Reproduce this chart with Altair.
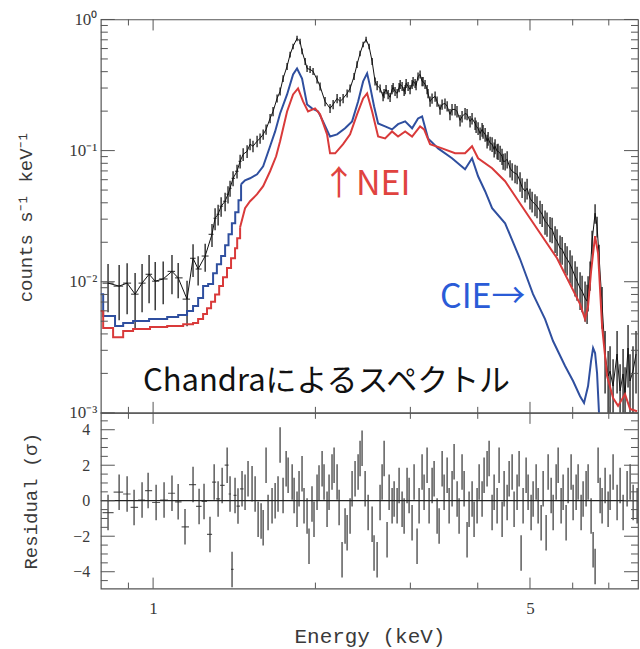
import altair as alt
import numpy as np
import pandas as pd

# ---------------- observed spectrum (keV, counts s^-1 keV^-1, fractional error) ----------------
data_E = [0.825, 0.865, 0.895, 0.926, 0.954, 0.983, 1.009, 1.044, 1.084, 1.113, 1.156, 1.186,
          1.212, 1.249, 1.286, 1.303, 1.320, 1.337, 1.360, 1.377, 1.389, 1.407, 1.431, 1.450,
          1.469, 1.494, 1.513, 1.532, 1.559, 1.579, 1.600, 1.620, 1.648, 1.669, 1.698, 1.720,
          1.742, 1.772, 1.795, 1.818, 1.849, 1.873, 1.889, 1.914, 1.930, 1.955, 1.980, 2.014,
          2.040, 2.084, 2.129, 2.157, 2.194, 2.222, 2.251, 2.290, 2.319, 2.359, 2.389, 2.420,
          2.452, 2.483, 2.515, 2.548, 2.580, 2.636, 2.681, 2.728, 2.774, 2.810, 2.859, 2.896,
          2.934, 2.971, 3.022, 3.061, 3.100, 3.127, 3.167, 3.194, 3.235, 3.291, 3.362, 3.435,
          3.510, 3.584, 3.661, 3.741, 3.822, 3.904, 3.955, 4.006, 4.075, 4.128, 4.181, 4.253,
          4.307, 4.363, 4.437, 4.496, 4.592, 4.691, 4.792, 4.895, 5.000, 5.108, 5.219, 5.332,
          5.447, 5.565, 5.685, 5.808, 5.933, 6.061, 6.192, 6.325, 6.407, 6.462, 6.518, 6.602,
          6.658, 6.715, 6.802, 6.890, 6.980, 7.038, 7.129, 7.252, 7.346, 7.440, 7.503, 7.600,
          7.664, 7.762, 7.863]
data_rate = [0.00976, 0.00926, 0.00976, 0.00804, 0.00976, 0.0114, 0.0101, 0.0105, 0.0120, 0.0107, 0.00737, 0.0151,
             0.0125, 0.0157, 0.0230, 0.0305, 0.0327, 0.0377, 0.0411, 0.0465, 0.0516, 0.0615, 0.0696, 0.0829,
             0.0937, 0.0988, 0.112, 0.108, 0.118, 0.124, 0.133, 0.145, 0.176, 0.199, 0.250, 0.283,
             0.355, 0.439, 0.541, 0.623, 0.717, 0.680, 0.571, 0.479, 0.423, 0.416, 0.402, 0.349,
             0.309, 0.237, 0.210, 0.225, 0.250, 0.237, 0.250, 0.273, 0.298, 0.368, 0.454, 0.551,
             0.645, 0.704, 0.623, 0.479, 0.337, 0.298, 0.273, 0.268, 0.293, 0.283, 0.303, 0.309,
             0.293, 0.309, 0.320, 0.326, 0.368, 0.381, 0.337, 0.320, 0.273, 0.250, 0.237, 0.225,
             0.218, 0.206, 0.199, 0.182, 0.189, 0.176, 0.161, 0.148, 0.145, 0.133, 0.124, 0.112,
             0.108, 0.0988, 0.0905, 0.0829, 0.0733, 0.0672, 0.0584, 0.0490, 0.0433, 0.0390, 0.0345, 0.0289,
             0.0256, 0.0215, 0.0180, 0.0157, 0.0136, 0.0110, 0.00894, 0.00750, 0.00848, 0.0114, 0.0204, 0.0333,
             0.0265, 0.0157, 0.00675, 0.00281, 0.00191, 0.00208, 0.00160, 0.00281, 0.00147, 0.00198, 0.00139, 0.00312,
             0.00175, 0.00208, 0.00281]
data_err = [0.40, 0.45, 0.42, 0.45, 0.40, 0.40, 0.40, 0.36, 0.33, 0.30, 0.38, 0.28,
            0.25, 0.24, 0.20, 0.19, 0.18, 0.17, 0.16, 0.15, 0.14, 0.13, 0.12, 0.12,
            0.11, 0.11, 0.10, 0.10, 0.10, 0.09, 0.09, 0.09, 0.08, 0.08, 0.07, 0.07,
            0.06, 0.06, 0.05, 0.05, 0.05, 0.05, 0.05, 0.06, 0.06, 0.06, 0.06, 0.07,
            0.07, 0.08, 0.08, 0.08, 0.08, 0.08, 0.08, 0.07, 0.07, 0.06, 0.06, 0.05,
            0.05, 0.05, 0.05, 0.06, 0.07, 0.07, 0.08, 0.08, 0.08, 0.08, 0.08, 0.08,
            0.08, 0.08, 0.08, 0.08, 0.07, 0.07, 0.08, 0.08, 0.08, 0.09, 0.09, 0.09,
            0.09, 0.10, 0.10, 0.10, 0.10, 0.10, 0.11, 0.11, 0.12, 0.12, 0.12, 0.13,
            0.13, 0.14, 0.14, 0.15, 0.15, 0.16, 0.17, 0.18, 0.18, 0.19, 0.20, 0.21,
            0.22, 0.23, 0.25, 0.26, 0.28, 0.30, 0.32, 0.34, 0.30, 0.25, 0.20, 0.17,
            0.18, 0.22, 0.35, 0.50, 0.55, 0.55, 0.60, 0.50, 0.60, 0.55, 0.60, 0.50,
            0.60, 0.55, 0.50]

# finer bins read from the dense 2.6-6.4 keV band
fine_E = [2.603, 2.670, 2.704, 2.751, 2.787, 2.835, 2.872, 2.921, 2.946, 2.996,
          3.035, 3.074, 3.154, 3.222, 3.263, 3.334, 3.405, 3.478, 3.553, 3.631,
          3.709, 3.789, 3.871, 3.972, 4.040, 4.092, 4.163, 4.217, 4.290, 4.345,
          4.401, 4.458, 4.535, 4.633, 4.732, 4.834, 4.938, 5.045, 5.152, 5.266,
          5.377, 5.495, 5.612, 5.735, 5.858, 5.984, 6.113, 6.245, 6.380]
fine_rate = [0.314, 0.259, 0.293, 0.255, 0.303, 0.273, 0.320, 0.283, 0.326, 0.293,
             0.337, 0.314, 0.337, 0.293, 0.237, 0.259, 0.206, 0.229, 0.189, 0.206,
             0.170, 0.192, 0.167, 0.153, 0.135, 0.140, 0.118, 0.114, 0.102, 0.0988,
             0.0954, 0.0829, 0.0858, 0.0696, 0.0660, 0.0525, 0.0516, 0.0411, 0.0377, 0.0327,
             0.0279, 0.0252, 0.0204, 0.0177, 0.0149, 0.0125, 0.0101, 0.00848, 0.00712]
fine_err = [0.08, 0.08, 0.08, 0.08, 0.08, 0.08, 0.08, 0.08, 0.08, 0.08,
            0.08, 0.08, 0.08, 0.08, 0.09, 0.09, 0.09, 0.09, 0.10, 0.10,
            0.10, 0.10, 0.10, 0.11, 0.11, 0.12, 0.12, 0.12, 0.13, 0.13,
            0.14, 0.14, 0.15, 0.15, 0.16, 0.17, 0.18, 0.18, 0.19, 0.20,
            0.21, 0.22, 0.23, 0.24, 0.25, 0.27, 0.29, 0.31, 0.33]

# ---------------- CIE model (blue) ----------------
cie_step_E = [0.797, 0.808, 0.850, 0.880, 0.918, 0.983, 1.062, 1.113, 1.156, 1.186, 1.212,
              1.238, 1.265, 1.292, 1.313, 1.337, 1.360, 1.380, 1.400, 1.420, 1.440, 1.456]
cie_step_rate = [0.00804, 0.00547, 0.00459, 0.00484, 0.00501, 0.00519, 0.00538, 0.00558, 0.00597, 0.00652, 0.00750,
                 0.00926, 0.00959, 0.0116, 0.0136, 0.0157, 0.0190, 0.0230, 0.0279, 0.0339, 0.0418, 0.0554]
cie_E = [1.456, 1.481, 1.513, 1.559, 1.600, 1.648, 1.684, 1.720, 1.772, 1.818, 1.849, 1.889,
         1.930, 1.971, 2.023, 2.066, 2.129, 2.194, 2.270, 2.339, 2.400, 2.452, 2.494, 2.526,
         2.569, 2.614, 2.693, 2.774, 2.846, 2.934, 3.022, 3.100, 3.154, 3.235, 3.377, 3.584,
         3.789, 3.904, 4.006, 4.128, 4.253, 4.496, 4.792, 5.065, 5.332, 5.517, 5.808, 6.010,
         6.192, 6.298, 6.407, 6.490, 6.546, 6.602, 6.658, 6.715, 6.80]
cie_rate = [0.0554, 0.0594, 0.0615, 0.0660, 0.0759, 0.108, 0.140, 0.192, 0.268, 0.381, 0.423, 0.355,
            0.225, 0.210, 0.199, 0.167, 0.128, 0.133, 0.148, 0.167, 0.237, 0.337, 0.388, 0.309,
            0.218, 0.161, 0.153, 0.145, 0.159, 0.167, 0.148, 0.176, 0.182, 0.124, 0.104, 0.0874,
            0.0721, 0.0874, 0.0637, 0.0490, 0.0364, 0.0279, 0.0149, 0.00804, 0.00519, 0.00353, 0.00228, 0.00175,
            0.00134, 0.00119, 0.00160, 0.00249, 0.00312, 0.00286, 0.00201, 0.00098, 0.0005]

# ---------------- NEI model (red) ----------------
nei_step_E = [0.797, 0.808, 0.843, 0.880, 0.918, 0.987, 1.062, 1.137, 1.186, 1.212, 1.238,
              1.259, 1.281, 1.303, 1.326, 1.348, 1.371, 1.395, 1.419, 1.432, 1.450]
nei_step_rate = [0.00597, 0.00443, 0.00378, 0.00421, 0.00436, 0.00451, 0.00459, 0.00475, 0.00484, 0.00519, 0.00567,
                 0.00629, 0.00705, 0.00800, 0.00926, 0.0108, 0.0127, 0.0151, 0.0180, 0.0215, 0.0260]
nei_E = [1.450, 1.481, 1.513, 1.559, 1.600, 1.648, 1.691, 1.720, 1.772, 1.818, 1.857, 1.897,
         1.938, 1.997, 2.040, 2.102, 2.129, 2.176, 2.251, 2.319, 2.389, 2.452, 2.494, 2.548,
         2.614, 2.693, 2.774, 2.846, 2.934, 3.022, 3.127, 3.181, 3.263, 3.435, 3.631, 3.789,
         3.904, 4.006, 4.253, 4.496, 5.000, 5.612, 6.192, 6.325, 6.407, 6.490, 6.602, 6.687,
         6.802, 6.949, 7.129, 7.283, 7.503, 7.664, 7.897]
nei_rate = [0.0260, 0.0364, 0.0411, 0.0465, 0.0535, 0.0696, 0.0905, 0.118, 0.199, 0.268, 0.298, 0.237,
            0.199, 0.210, 0.189, 0.133, 0.0954, 0.0954, 0.112, 0.133, 0.189, 0.250, 0.273, 0.199,
            0.128, 0.124, 0.140, 0.128, 0.140, 0.128, 0.153, 0.145, 0.112, 0.104, 0.0954, 0.0954,
            0.108, 0.0874, 0.0733, 0.0584, 0.0305, 0.0151, 0.00675, 0.00519, 0.00652, 0.0120, 0.0223, 0.0165,
            0.00459, 0.00191, 0.00130, 0.00113, 0.00139, 0.00107, 0.00103]

# ---------------- residuals (sigma) ----------------
res_E = [0.825, 0.865, 0.895, 0.922, 0.954, 0.979, 1.013, 1.048, 1.084, 1.113, 1.146, 1.186,
         1.217, 1.243, 1.275, 1.298, 1.320, 1.343, 1.372, 1.389, 1.401, 1.419, 1.437, 1.462,
         1.481, 1.500, 1.526, 1.546, 1.566, 1.586, 1.600, 1.620, 1.634, 1.662, 1.684, 1.705,
         1.720, 1.742, 1.765, 1.780, 1.811, 1.826, 1.849, 1.865, 1.889, 1.905, 1.930, 1.946,
         1.971, 1.988, 2.014, 2.031, 2.058, 2.075, 2.102, 2.120, 2.147, 2.166, 2.194, 2.213,
         2.241, 2.270, 2.290, 2.319, 2.339, 2.369, 2.400, 2.420, 2.441, 2.473, 2.505, 2.548,
         2.569, 2.603, 2.636, 2.659, 2.682, 2.716, 2.740, 2.775, 2.799, 2.835, 2.859, 2.896,
         2.921, 2.958, 2.984, 3.022, 3.048, 3.087, 3.114, 3.154, 3.181, 3.222, 3.250, 3.292,
         3.320, 3.363, 3.392, 3.436, 3.465, 3.510, 3.540, 3.585, 3.616, 3.663, 3.694, 3.741,
         3.774, 3.822, 3.855, 3.905, 3.938, 3.989, 4.024, 4.075, 4.110, 4.163, 4.199, 4.253,
         4.290, 4.345, 4.382, 4.439, 4.477, 4.535, 4.574, 4.633, 4.672, 4.732, 4.773, 4.814,
         4.855, 4.918, 4.960, 5.024, 5.067, 5.133, 5.177, 5.244, 5.289, 5.357, 5.403, 5.473,
         5.520, 5.591, 5.639, 5.711, 5.760, 5.834, 5.884, 5.960, 6.011, 6.089, 6.141, 6.220,
         6.273, 6.354, 6.409, 6.491, 6.547, 6.603, 6.688, 6.746, 6.803, 6.891, 6.980, 7.040,
         7.130, 7.253, 7.347, 7.442, 7.570, 7.668, 7.767, 7.901]
res_sigma = [-0.67, 0.48, 0.38, -0.38, 0.04, 0.57, -0.10, 0.04, 0.42, -0.06, -1.47, 0.91,
             -0.32, -0.04, -1.90, 1.05, 0.10, 0.86, 2.00, 0.38, -3.87, 0.30, -0.30, 0.67,
             0.48, 1.24, 0.95, 0.38, -1.05, -1.14, -1.52, 2.00, -0.67, -0.29, 0.00, 0.38,
             3.14, 0.29, 1.80, 1.43, 1.05, 0.29, -0.48, 0.67, 1.52, -0.29, -0.86, -2.57,
             -0.19, -1.05, 0.48, 1.00, 1.80, 1.05, -0.48, 0.48, 1.62, 2.00, 1.05, -0.38,
             -3.33, -1.43, -1.80, -0.86, 0.67, 1.24, 1.62, 2.38, 2.95, 0.67, -0.67, -1.33,
             -2.95, -3.33, -0.10, 1.05, 2.38, -2.20, 0.48, -0.29, 0.10, -0.29, 0.86, -0.48,
             -0.86, 0.86, 0.29, -1.24, 1.05, -2.57, -0.29, 1.62, 0.48, 2.00, -0.29, 0.86,
             1.24, -0.86, -1.43, 1.80, 0.48, 1.43, -0.29, 0.67, 2.19, 0.10, -0.86, 1.62,
             0.67, -2.20, -0.48, 0.10, -1.05, -0.29, 1.05, 0.10, 1.43, 1.80, 2.38, -0.67,
             0.48, -0.29, 2.00, -1.05, 0.67, -0.10, 1.24, 1.62, -0.48, 0.48, 1.80, -2.95,
             -0.29, 1.43, 0.48, -0.67, 0.10, 1.05, -0.29, -1.24, 0.67, -1.80, 1.62, 0.29,
             -0.67, 1.05, 2.00, -0.29, 0.48, -1.24, 0.86, 1.62, -0.10, 0.48, 1.05, -0.67,
             0.10, 0.67, 1.05, -0.86, -2.76, -3.70, 2.00, 0.29, -0.29, 0.86, -0.48, 0.48,
             1.62, -0.10, 0.86, -0.67, 0.67, 1.05, -0.10, -0.29]

# ---------------- axis tick values ----------------
x_major_ticks = [1, 5]
x_minor_ticks = [0.9, 2, 3, 4, 6, 7]
y_major_ticks = [0.001, 0.01, 0.1, 1]
y_minor_ticks = [k * 10.0 ** d for d in (-3, -2, -1) for k in range(2, 10)]
r_major_ticks = [-4, -2, 0, 2, 4]
r_minor_ticks = [-4.5, -3.5, -3, -2.5, -1.5, -1, -0.5, 0.5, 1, 1.5, 2.5, 3, 3.5, 4.5]

annotations = pd.DataFrame({
    "E": [2.058, 3.405, 0.958],
    "v": [0.0457, 0.00629, 0.00147],
    "label": ["↑NEI", "CIE→", "Chandraによるスペクトル"],
    "color": ["#e0433f", "#2a5bd7", "#111111"],
})

# ---------------- build tables ----------------
W, HT, HR = 538, 394, 176
SERIF = "Liberation Serif"
MONO = "Liberation Mono"
TXT = "#3a3a3a"
FRAME = "#555555"
CJK = "Noto Sans CJK JP"

coarse = pd.DataFrame({"E": data_E, "v": data_rate, "err": data_err})
Ev = np.array(data_E)
edges = np.sqrt(Ev[:-1] * Ev[1:])
coarse["e1"] = np.r_[Ev[0] ** 2 / edges[0], edges]
coarse["e2"] = np.r_[edges, Ev[-1] ** 2 / edges[-1]]
obs_wide = coarse.iloc[:24]

obs = pd.concat([coarse[["E", "v", "err"]],
                 pd.DataFrame({"E": fine_E, "v": fine_rate, "err": fine_err})]).sort_values("E")
obs["lo"] = obs["v"] * (1 - obs["err"])
obs["hi"] = obs["v"] * (1 + obs["err"])

res = pd.DataFrame({"E": res_E, "r": res_sigma})
Rv = np.array(res_E)
redges = np.sqrt(Rv[:-1] * Rv[1:])
res["e1"] = np.r_[Rv[0] ** 2 / redges[0], redges]
res["e2"] = np.r_[redges, Rv[-1] ** 2 / redges[-1]]
res["lo"] = res["r"] - 1
res["hi"] = res["r"] + 1
res_wide = res.iloc[:24]

xscale = alt.Scale(type="log", domain=[0.8, 7.93], nice=False)
ytop_scale = alt.Scale(type="log", domain=[0.001, 1], nice=False)
yres_scale = alt.Scale(domain=[-4.95, 4.95], nice=False, zero=False)

ytop_axis = alt.Axis(
    values=y_major_ticks,
    labelExpr="datum.value > 0.5 ? '10⁰' : datum.value > 0.05 ? '10⁻¹' : datum.value > 0.005 ? '10⁻²' : '10⁻³'",
    ticks=False, domain=False, grid=False,
    labelFont=SERIF, labelFontSize=17, labelColor=TXT, labelPadding=4,
    title="counts s⁻¹ keV⁻¹", titleFont=MONO, titleFontSize=19, titleFontWeight="normal",
    titleColor=TXT, titleX=-75, titleY=HT / 2, titleBaseline="middle", titleAlign="center", titleAngle=270,
)
yres_axis = alt.Axis(
    values=r_major_ticks,
    labelExpr="datum.value < 0 ? '−' + abs(datum.value) : '' + datum.value",
    ticks=False, domain=False, grid=False,
    labelFont=SERIF, labelFontSize=16, labelColor=TXT, labelPadding=11,
    title="Residual (σ)", titleFont=MONO, titleFontSize=19, titleFontWeight="normal",
    titleColor=TXT, titleX=-70, titleY=HR / 2, titleBaseline="middle", titleAlign="center", titleAngle=270,
)
xres_axis = alt.Axis(
    values=x_major_ticks, format="d", ticks=False, domain=False, grid=False,
    labelFont=SERIF, labelFontSize=17, labelColor=TXT, labelPadding=12,
    title="Energy (keV)", titleFont=MONO, titleFontSize=21, titleFontWeight="normal",
    titleColor=TXT, titleY=48, titleBaseline="middle",
)


def XT(field="E"):
    return alt.X(f"{field}:Q", scale=xscale, axis=None)


def XR(field="E"):
    return alt.X(f"{field}:Q", scale=xscale, axis=xres_axis)


def YT(field):
    return alt.Y(f"{field}:Q", scale=ytop_scale, axis=ytop_axis)


def YR(field):
    return alt.Y(f"{field}:Q", scale=yres_scale, axis=yres_axis)


def x_tick_layers(xenc, height):
    layers = []
    for vals, ln in ((x_major_ticks, 11), (x_minor_ticks, 6)):
        df = pd.DataFrame({"E": vals})
        b = alt.Chart(df).mark_rule(color=FRAME, strokeWidth=1)
        layers.append(b.encode(x=xenc("E"), y=alt.value(0), y2=alt.value(ln)))
        layers.append(b.encode(x=xenc("E"), y=alt.value(height), y2=alt.value(height - ln)))
    return layers


def y_tick_layers(yenc, majors, minors):
    layers = []
    for vals, ln in ((majors, 14), (minors, 7)):
        df = pd.DataFrame({"t": vals})
        b = alt.Chart(df).mark_rule(color=FRAME, strokeWidth=1)
        layers.append(b.encode(y=yenc("t"), x=alt.value(0), x2=alt.value(ln)))
        layers.append(b.encode(y=yenc("t"), x=alt.value(W), x2=alt.value(W - ln)))
    return layers


# ---------------- top panel ----------------
err_bars = alt.Chart(obs).mark_rule(color="#1a1a1a", strokeWidth=1.3, clip=True).encode(
    x=XT(), y=YT("lo"), y2="hi:Q")
x_bars = alt.Chart(obs_wide).mark_rule(color="#222222", strokeWidth=1, clip=True).encode(
    x=XT("e1"), x2="e2:Q", y=YT("v"))
obs_line = alt.Chart(obs).mark_line(color="#111111", strokeWidth=1, clip=True).encode(
    x=XT(), y=YT("v"))

cie_lo = alt.Chart(pd.DataFrame({"E": cie_step_E, "v": cie_step_rate})).mark_line(
    color="#2f4f9f", strokeWidth=2, interpolate="step-after", clip=True).encode(x=XT(), y=YT("v"))
cie_hi = alt.Chart(pd.DataFrame({"E": cie_E, "v": cie_rate})).mark_line(
    color="#2f4f9f", strokeWidth=2, clip=True).encode(x=XT(), y=YT("v"))
nei_lo = alt.Chart(pd.DataFrame({"E": nei_step_E, "v": nei_step_rate})).mark_line(
    color="#d93a3a", strokeWidth=2, interpolate="step-after", clip=True).encode(x=XT(), y=YT("v"))
nei_hi = alt.Chart(pd.DataFrame({"E": nei_E, "v": nei_rate})).mark_line(
    color="#d93a3a", strokeWidth=2, clip=True).encode(x=XT(), y=YT("v"))

texts = []
for i, size in zip(range(3), (34, 34, 31)):
    texts.append(
        alt.Chart(annotations.iloc[[i]]).mark_text(
            font=CJK, fontSize=size, align="left", baseline="alphabetic",
            color=annotations["color"].iloc[i]).encode(x=XT(), y=YT("v"), text="label:N"))

top = alt.layer(
    err_bars, x_bars, obs_line, cie_lo, cie_hi, nei_lo, nei_hi, *texts,
    *x_tick_layers(XT, HT),
    *y_tick_layers(YT, y_major_ticks, y_minor_ticks),
).properties(width=W, height=HT)

# ---------------- residual panel ----------------
zero = alt.Chart(pd.DataFrame({"t": [0]})).mark_rule(color="#222222", strokeWidth=1.2).encode(
    y=YR("t"), x=alt.value(0), x2=alt.value(W))
res_bars = alt.Chart(res).mark_rule(color="#333333", strokeWidth=1.6, opacity=0.75, clip=True).encode(
    x=XR(), y=YR("lo"), y2="hi:Q")
res_x = alt.Chart(res_wide).mark_rule(color="#333333", strokeWidth=1.2, opacity=0.8, clip=True).encode(
    x=XR("e1"), x2="e2:Q", y=YR("r"))

bottom = alt.layer(
    res_bars, res_x, zero,
    *x_tick_layers(XR, HR),
    *y_tick_layers(YR, r_major_ticks, r_minor_ticks),
).properties(width=W, height=HR)

chart = alt.vconcat(top, bottom, spacing=0, bounds="flush").properties(
    padding={"left": 16, "top": 9, "right": 0, "bottom": 0},
    background="white",
).configure_view(stroke=FRAME, strokeWidth=1.2)

chart.save("out.html", embed_options={"renderer": "svg", "actions": False})
